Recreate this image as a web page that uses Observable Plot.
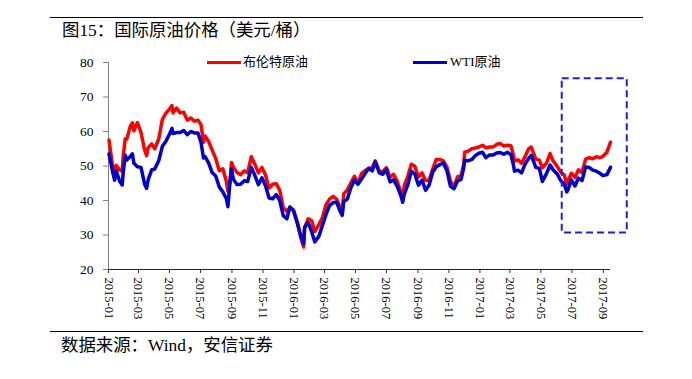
<!DOCTYPE html>
<html><head><meta charset="utf-8">
<script src="https://cdn.jsdelivr.net/npm/d3@7"></script>
<script src="https://cdn.jsdelivr.net/npm/@observablehq/plot@0.6"></script>
<style>
html,body{margin:0;padding:0;background:#fff;}
body{width:692px;height:379px;position:relative;overflow:hidden;font-family:"Liberation Serif","Noto Sans CJK SC",serif;color:#000;}
.hr{position:absolute;height:1px;background:#000;}
#title{position:absolute;left:62px;top:20px;font-size:17.4px;line-height:20px;white-space:nowrap;}
#source{position:absolute;left:61px;top:335px;font-size:17.4px;line-height:20px;white-space:nowrap;}
#chart{position:absolute;left:0;top:50px;}
.lg{position:absolute;top:54px;font-size:13px;line-height:16px;white-space:nowrap;}
.sw{position:absolute;top:61px;height:3px;width:34px;}
</style>
</head><body>
<div class="hr" style="left:50px;top:17px;width:593px;"></div>
<div id="title">图15：国际原油价格（美元/桶）</div>
<div id="chart"></div>
<div class="hr" style="left:50px;top:331px;width:593px;"></div>
<div id="source">数据来源：Wind，安信证券</div>
<script>
const seriesNames = ["布伦特原油", "WTI原油"];
const seriesColors = ["#ff0000", "#0000cc"];

const dates = [
"2015-01-02","2015-01-09","2015-01-13","2015-01-16","2015-01-23","2015-01-28","2015-01-30","2015-02-03","2015-02-06","2015-02-13",
"2015-02-17","2015-02-20","2015-02-27","2015-03-06","2015-03-13","2015-03-17","2015-03-20","2015-03-27","2015-04-02","2015-04-10",
"2015-04-17","2015-04-24","2015-05-01","2015-05-06","2015-05-08","2015-05-15","2015-05-22","2015-05-29","2015-06-05","2015-06-12",
"2015-06-19","2015-06-26","2015-07-02","2015-07-07","2015-07-10","2015-07-17","2015-07-24","2015-07-31","2015-08-07","2015-08-14",
"2015-08-21","2015-08-24","2015-08-28","2015-08-31","2015-09-04","2015-09-11","2015-09-18","2015-09-25","2015-10-02","2015-10-09",
"2015-10-16","2015-10-23","2015-10-30","2015-11-06","2015-11-13","2015-11-20","2015-11-27","2015-12-04","2015-12-11","2015-12-18",
"2015-12-24","2015-12-31",
"2016-01-08","2016-01-15","2016-01-20","2016-01-22","2016-01-29","2016-02-05","2016-02-11","2016-02-19","2016-02-26","2016-03-04",
"2016-03-11","2016-03-18","2016-03-25","2016-04-01","2016-04-05","2016-04-08","2016-04-15","2016-04-22","2016-04-29","2016-05-06",
"2016-05-13","2016-05-20","2016-05-27","2016-06-03","2016-06-09","2016-06-17","2016-06-24","2016-07-01","2016-07-08","2016-07-15",
"2016-07-22","2016-07-29","2016-08-02","2016-08-05","2016-08-12","2016-08-19","2016-08-26","2016-09-02","2016-09-09","2016-09-16",
"2016-09-23","2016-09-30","2016-10-07","2016-10-14","2016-10-21","2016-10-28","2016-11-04","2016-11-11","2016-11-18","2016-11-25",
"2016-11-30","2016-12-02","2016-12-09","2016-12-16","2016-12-23","2016-12-30",
"2017-01-06","2017-01-13","2017-01-20","2017-01-27","2017-02-03","2017-02-10","2017-02-17","2017-02-24","2017-03-03","2017-03-08",
"2017-03-10","2017-03-17","2017-03-24","2017-03-31","2017-04-07","2017-04-12","2017-04-21","2017-04-28","2017-05-04","2017-05-12",
"2017-05-19","2017-05-25","2017-06-02","2017-06-09","2017-06-16","2017-06-21","2017-06-23","2017-06-30","2017-07-07","2017-07-14",
"2017-07-21","2017-07-28","2017-08-04","2017-08-11","2017-08-18","2017-08-25","2017-08-31","2017-09-08","2017-09-15"
];

const brent = [
57.5,50.1,46.6,50.2,48.8,48.5,52.9,57.9,57.8,61.5,
62.5,60.2,62.6,59.7,54.7,53.0,55.3,56.4,55.0,57.9,
63.5,65.3,66.5,67.5,65.4,66.8,65.4,65.6,63.3,63.9,
63.0,63.3,62.0,56.9,58.7,57.1,54.6,52.2,48.6,49.2,
45.5,42.7,45.1,51.0,49.6,48.1,47.5,48.6,48.1,52.7,
50.5,48.0,49.6,47.4,43.6,44.7,44.9,43.0,37.9,36.9,
37.9,37.3,
33.6,28.9,26.5,32.2,34.7,34.1,31.0,33.0,35.1,38.7,
40.4,41.2,40.4,38.0,36.8,41.9,43.1,45.1,47.0,45.0,
47.8,48.7,49.3,49.6,51.5,48.5,48.4,49.5,46.8,47.6,
45.7,42.5,41.0,44.3,47.0,50.5,49.9,46.8,48.0,45.8,
45.9,49.1,51.9,51.9,51.5,49.7,45.6,44.0,46.9,47.2,
50.5,54.0,54.3,55.0,55.2,55.5,
56.0,55.3,55.5,55.5,56.3,56.5,55.8,56.0,55.9,53.1,
51.4,51.8,50.8,52.8,55.0,55.5,52.0,51.7,49.5,50.8,
53.6,51.5,49.9,48.2,47.4,44.8,45.5,47.9,46.7,48.9,
48.1,52.0,52.4,52.1,52.7,52.4,52.8,54.0,56.9
];

const wti = [
53.5,48.4,45.9,48.7,45.6,44.5,48.2,53.1,51.7,52.8,
53.5,50.8,49.8,49.6,44.8,43.5,46.0,48.9,49.1,51.6,
55.7,57.2,59.2,60.9,59.4,59.7,59.7,60.3,59.1,60.0,
59.6,59.6,56.9,52.3,52.7,50.9,48.1,47.1,43.9,42.5,
40.5,38.2,45.2,49.2,46.1,44.6,44.7,45.7,45.5,49.6,
47.3,44.6,46.6,44.3,40.7,40.5,41.7,40.0,35.6,34.7,
38.1,37.0,
33.2,29.4,27.5,32.2,33.6,30.9,28.0,29.6,32.8,35.9,
38.5,39.4,39.5,36.8,35.7,39.7,40.4,43.7,45.9,44.7,
46.2,47.8,49.3,48.6,51.2,48.0,47.6,49.0,45.4,46.0,
44.2,41.6,39.5,41.8,44.5,48.5,47.6,44.4,45.9,43.0,
44.5,48.2,49.8,50.4,50.8,48.7,44.1,43.4,45.7,46.1,
49.4,51.7,51.5,51.9,53.0,53.7,
54.0,52.4,53.2,53.2,53.8,53.9,53.4,54.0,53.3,50.3,
48.5,48.8,48.0,50.6,52.2,53.1,49.6,49.3,45.5,47.8,
50.3,48.9,47.7,45.8,44.7,42.5,43.0,46.0,44.2,46.5,
45.8,49.7,49.6,48.8,48.5,47.9,47.2,47.5,49.6
];

const xTickLabels = ["2015-01","2015-03","2015-05","2015-07","2015-09","2015-11","2016-01","2016-03","2016-05","2016-07","2016-09","2016-11","2017-01","2017-03","2017-05","2017-07","2017-09"];
const yTicks = [20,30,40,50,60,70,80];
const xDomain = ["2015-01-01","2017-09-15"];

// highlighted region (dashed box)
const boxDates = ["2017-06-12","2017-10-18"];
const boxValues = [30.6, 75.3];

const rows = dates.map((d,i)=>({date:new Date(d), brent:brent[i], wti:wti[i]}));
const box = [{x1:new Date(boxDates[0]), x2:new Date(boxDates[1]), y1:boxValues[0], y2:boxValues[1]}];
const x0 = new Date(xDomain[0]);

const chart = Plot.plot({
  width: 692, height: 285,
  marginTop: 12, marginBottom: 66, marginLeft: 108, marginRight: 82,
  style: {fontFamily: "'Liberation Serif','Noto Sans CJK SC',serif", color: "#000", background: "transparent", overflow: "visible"},
  x: {type: "utc", domain: xDomain.map(d=>new Date(d))},
  y: {domain: [20, 80]},
  marks: [
    Plot.ruleX([x0], {y1: 20, y2: 80, stroke: "#808080", strokeWidth: 1}),
    Plot.axisY({ticks: yTicks, tickSize: 5, tickPadding: 10, label: null, fontSize: 13.5, stroke: "#808080"}),
    Plot.axisX({ticks: xTickLabels.map(s=>new Date(s+"-01")), tickFormat: d3.utcFormat("%Y-%m"), tickRotate: 90, tickSize: 4, tickPadding: 4, label: null, fontSize: 12.5, stroke: "#333"}),
    Plot.ruleY([20], {stroke: "#222", strokeWidth: 1}),
    Plot.line(rows, {x: "date", y: "brent", stroke: seriesColors[0], strokeWidth: 3.5, curve: "linear"}),
    Plot.line(rows, {x: "date", y: "wti", stroke: seriesColors[1], strokeWidth: 3.5, curve: "linear"}),
    Plot.rect(box, {x1: "x1", x2: "x2", y1: "y1", y2: "y2", fill: "none", stroke: "#2020d8", strokeWidth: 2, strokeDasharray: "7,4"})
  ]
});
document.getElementById("chart").appendChild(chart);

// legend
const lgPos = [[207, 243], [413, 450]];
seriesNames.forEach((name, i) => {
  const sw = document.createElement("div");
  sw.className = "sw";
  sw.style.left = lgPos[i][0] + "px";
  sw.style.background = seriesColors[i];
  document.body.appendChild(sw);
  const t = document.createElement("div");
  t.className = "lg";
  t.style.left = lgPos[i][1] + "px";
  t.textContent = name;
  document.body.appendChild(t);
});
</script>
</body></html>
